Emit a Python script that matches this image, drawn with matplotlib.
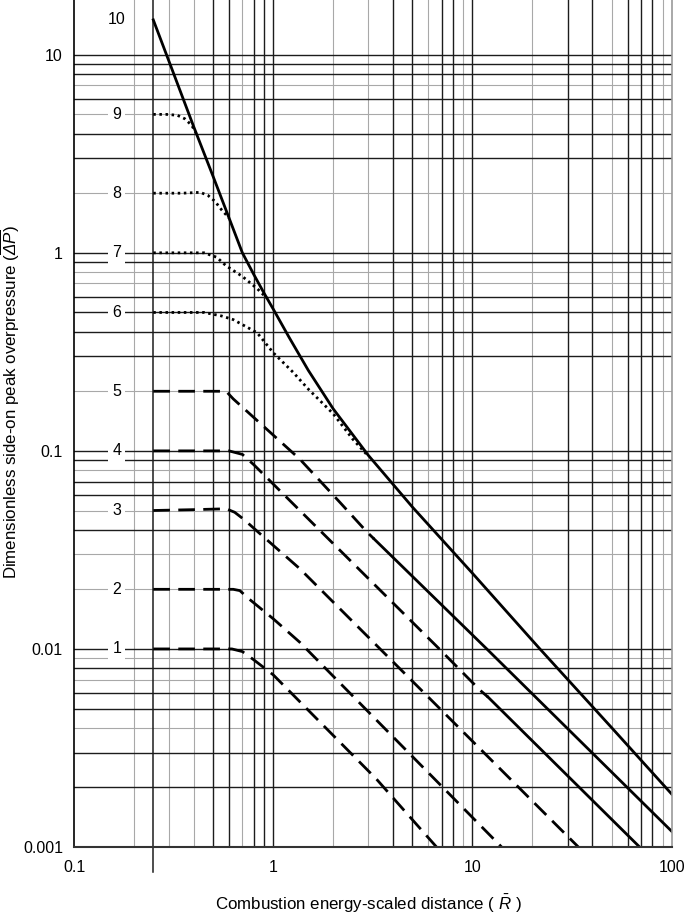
"""Multi-energy blast chart: dimensionless side-on peak overpressure vs
combustion energy-scaled distance, curves for blast strengths 1..10."""
import matplotlib
matplotlib.use("Agg")
import matplotlib.pyplot as plt  # noqa: E402

plt.rcParams["font.family"] = ["Liberation Sans", "DejaVu Sans"]
plt.rcParams["mathtext.fontset"] = "custom"
plt.rcParams["mathtext.rm"] = "Liberation Sans:italic"
plt.rcParams["mathtext.it"] = "Liberation Sans:italic"

# ---- curves (R = scaled distance, P = overpressure) ----
r_10 = [0.25, 0.3, 0.4, 0.5, 0.6, 0.7, 0.8, 0.9, 1.0, 1.2, 1.5, 2.0, 3.0,
        5.0, 10.0, 21.8, 50.0, 100.0]
p_10 = [15.0, 9.25, 4.3, 2.42, 1.5, 1.0, 0.775, 0.625, 0.52, 0.375, 0.255,
        0.163, 0.095, 0.052, 0.0241, 0.01, 0.0040, 0.00185]

r_9 = [0.25, 0.29, 0.33, 0.36, 0.39, 0.41]
p_9 = [5.0, 5.0, 4.95, 4.75, 4.4, 4.02]

r_8 = [0.25, 0.35, 0.43, 0.47, 0.51, 0.55, 0.6]
p_8 = [2.0, 2.0, 2.02, 1.95, 1.82, 1.65, 1.5]

r_7 = [0.25, 0.35, 0.45, 0.52, 0.58, 0.7, 0.83, 0.93]
p_7 = [1.0, 1.0, 1.0, 0.95, 0.86, 0.76, 0.66, 0.59]

r_6 = [0.25, 0.35, 0.45, 0.55, 0.63, 0.83, 1.0, 1.26, 1.5, 2.0, 2.5, 3.0]
p_6 = [0.5, 0.5, 0.5, 0.48, 0.46, 0.395, 0.313, 0.249, 0.205, 0.154, 0.115, 0.094]

r_5 = [0.25, 0.4, 0.58, 0.63, 1.36, 2.16, 2.95, 3.2, 11.8, 100.0]
p_5 = [0.2, 0.2, 0.2, 0.183, 0.0908, 0.055, 0.039, 0.036, 0.01, 0.0012]

r_4 = [0.25, 0.4, 0.6, 0.7, 0.8, 1.36, 2.16, 6.75, 10.9, 12.0, 69.0]
p_4 = [0.1, 0.1, 0.1, 0.096, 0.085, 0.05, 0.0315, 0.0101, 0.0062, 0.0057, 0.001]

r_3 = [0.25, 0.4, 0.58, 0.64, 0.71, 0.85, 1.36, 34.0]
p_3 = [0.05, 0.0505, 0.051, 0.049, 0.0452, 0.0385, 0.0254, 0.001]

r_2 = [0.25, 0.4, 0.63, 0.68, 0.75, 1.0, 1.36, 14.0]
p_2 = [0.02, 0.02, 0.02, 0.0197, 0.018, 0.0142, 0.0108, 0.001]

r_1 = [0.25, 0.4, 0.62, 0.7, 0.8, 1.0, 3.3, 6.6]
p_1 = [0.01, 0.01, 0.01, 0.0097, 0.0088, 0.0074, 0.0022, 0.001]

# far field drawn solid from this distance on (curves 4 and 5)
solid_from_4 = 12.0
solid_from_5 = 3.2

# ---- grid / ticks ----
x_ticks = [0.1, 1, 10, 100]
x_tick_labels = ["0.1", "1", "10", "100"]
y_ticks = [0.001, 0.01, 0.1, 1, 10]
y_tick_labels = ["0.001", "0.01", "0.1", "1", "10"]

x_grid_dark = [0.5, 0.6, 0.8, 0.9, 1, 4, 5, 7, 8, 10, 30, 40, 60, 70, 80]
x_grid_light = [0.2, 0.3, 0.4, 0.7, 2, 3, 6, 9, 20, 50, 90]
y_grid_dark = [10, 9, 8, 6, 4, 3, 1, 0.9, 0.6, 0.5, 0.4, 0.3,
               0.1, 0.09, 0.07, 0.06, 0.04, 0.01, 0.008, 0.006, 0.005, 0.003, 0.002]
y_grid_light = [7, 5, 2, 0.8, 0.7, 0.2, 0.08, 0.05, 0.03, 0.02, 0.009, 0.007, 0.004]

label_r = 0.164  # where the strength numbers sit

DARK, LIGHT = "#1c1c1c", "#a8a8a8"
LW = 2.0
DASH = (0, (6.0, 3.0))
DOT = (0, (0.9, 1.3))


def split(r, p, at):
    near = [(a, b) for a, b in zip(r, p) if a <= at]
    far = [(a, b) for a, b in zip(r, p) if a >= at]
    return list(zip(*near)), list(zip(*far))


fig = plt.figure(figsize=(6.85, 9.15), dpi=100)
ax = fig.add_axes([74 / 685, 68 / 915, 597.7 / 685, 847 / 915])
ax.set_xscale("log")
ax.set_yscale("log")
ax.set_xlim(0.1, 100)
ax.set_ylim(0.001, 18.9)

for x in x_grid_light:
    ax.axvline(x, color=LIGHT, lw=0.8, zorder=1)
for y in y_grid_light:
    ax.axhline(y, color=LIGHT, lw=0.8, zorder=1)
for x in x_grid_dark:
    ax.axvline(x, color=DARK, lw=1.0, zorder=1.5)
for y in y_grid_dark:
    ax.axhline(y, color=DARK, lw=1.0, zorder=1.5)
# start line of the curves, runs a bit below the axis
ax.axvline(r_10[0], ymin=-25 / 847, ymax=1, color=DARK, lw=1.1,
           clip_on=False, zorder=1.5)

# curves
ax.plot(r_10, p_10, color="k", lw=LW, zorder=4)
for r, p in [(r_9, p_9), (r_8, p_8), (r_7, p_7), (r_6, p_6)]:
    ax.plot(r, p, color="k", lw=LW, linestyle=DOT, zorder=3)
for r, p, at in [(r_5, p_5, solid_from_5), (r_4, p_4, solid_from_4)]:
    near, far = split(r, p, at)
    ax.plot(near[0], near[1], color="k", lw=LW, linestyle=DASH, zorder=3)
    ax.plot(far[0], far[1], color="k", lw=LW, zorder=4)
for r, p in [(r_3, p_3), (r_2, p_2), (r_1, p_1)]:
    ax.plot(r, p, color="k", lw=LW, linestyle=DASH, zorder=3)

# strength labels
for n, p in zip(range(1, 11), [p_1, p_2, p_3, p_4, p_5, p_6, p_7, p_8, p_9, p_10]):
    ax.text(label_r, p[0], str(n), ha="center", va="center", fontsize=11.5,
            zorder=5, bbox=dict(facecolor="white", edgecolor="none", pad=3))

ax.set_xticks(x_ticks, x_tick_labels)
ax.set_yticks(y_ticks, y_tick_labels)
ax.minorticks_off()
ax.tick_params(length=0, labelsize=11.5)
ax.tick_params(axis="x", pad=9)
ax.tick_params(axis="y", pad=8)

ax.spines["top"].set_visible(False)
ax.spines["left"].set_color("k")
ax.spines["left"].set_linewidth(1.2)
ax.spines["bottom"].set_color("#333333")
ax.spines["bottom"].set_linewidth(1.5)
ax.spines["right"].set_color("#999999")
ax.spines["right"].set_linewidth(1.2)
for s in ax.spines.values():
    s.set_zorder(6)

ax.set_xlabel("Combustion energy-scaled distance ( $\\bar{R}$ )", fontsize=12.2)
ax.xaxis.set_label_coords(0.492, -0.0535)
ax.set_ylabel("Dimensionless side-on peak overpressure ($\\overline{\\Delta P}$)",
              fontsize=12.2)
ax.yaxis.set_label_coords(-0.087, 0.525)

fig.savefig("out.png", dpi=100)
